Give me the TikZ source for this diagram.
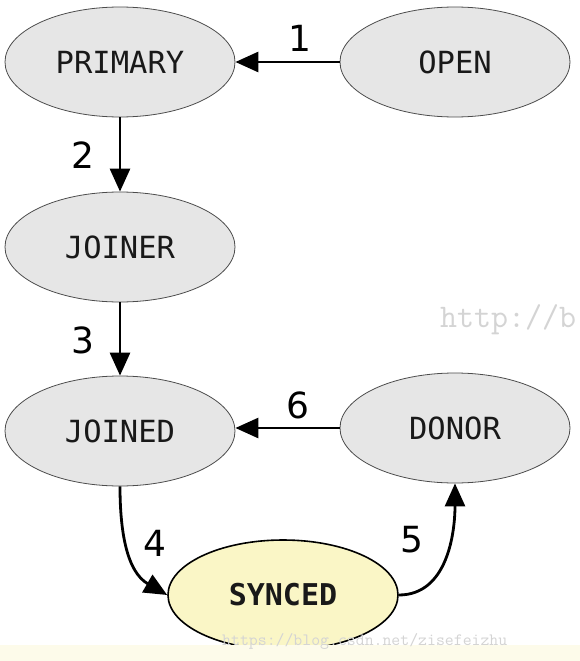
\documentclass[tikz,border=0pt]{standalone}
\usepackage{fontspec}
\setmainfont{DejaVu Sans}
\newfontfamily\statefont{DejaVu Sans Mono}
\usetikzlibrary{shapes.geometric,arrows.meta}
\definecolor{stategray}{HTML}{E6E6E6}
\definecolor{syncfill}{HTML}{FAF6C6}
\definecolor{bandcol}{HTML}{FDFBEA}
\begin{document}
\begin{tikzpicture}[x=1pt,y=-1pt,
  state/.style={ellipse,draw=black!70,line width=0.8pt,fill=stategray,
    minimum width=230pt,minimum height=110pt,inner sep=0pt,text=black!90,
    font=\statefont\fontsize{30.5}{30.5}\selectfont},
  syncstate/.style={state,draw=black,line width=1.6pt,fill=syncfill,
    font=\statefont\bfseries\fontsize{30}{30}\selectfont},
  conn/.style={line width=2.8pt,-{Triangle[length=23pt,width=20pt]}},
  lbl/.style={font=\fontsize{36}{36}\selectfont,inner sep=0pt},
  wm/.style={text=black!17,inner sep=0pt}]
\useasboundingbox (0,0) rectangle (580,661);
\fill[white] (0,0) rectangle (580,661);
\node[state] (primary) at (120,62) {PRIMARY};
\node[state] (open) at (455,62) {OPEN};
\node[state] (joiner) at (120,247) {JOINER};
\node[state] (joined) at (120,431) {JOINED};
\node[state] (donor) at (455,428) {DONOR};
\node[syncstate] (synced) at (283,595) {SYNCED};
\draw[conn] (open.west) -- (primary.east);
\draw[conn] (primary.south) -- (joiner.north);
\draw[conn] (joiner.south) -- (joined.north);
\draw[conn] (donor.west) -- (joined.east |- donor.west);
\draw[conn] (joined.south) to[out=-90,in=150] (synced.west);
\draw[conn] (synced.east) to[out=0,in=-90] (donor.south);
\node[lbl] (l1) at (300,38) {1};
\node[lbl] (l2) at (83,155) {2};
\node[lbl] (l3) at (83,340) {3};
\node[lbl] (l6) at (298,405) {6};
\node[lbl] (l4) at (155,543) {4};
\node[lbl] (l5) at (412,540) {5};
\fill[bandcol] (0,645) rectangle (580,661);
\begin{scope}
\clip (0,0) rectangle (580,661);
\node[wm,font=\ttfamily\fontsize{33}{33}\selectfont,anchor=west] (wm1) at (440,320) {http://b};
\end{scope}
\node[wm,font=\ttfamily\fontsize{17.3}{17.3}\selectfont,anchor=west] (wm2) at (222,641) {https://blog.csdn.net/zisefeizhu};
\end{tikzpicture}
\end{document}
